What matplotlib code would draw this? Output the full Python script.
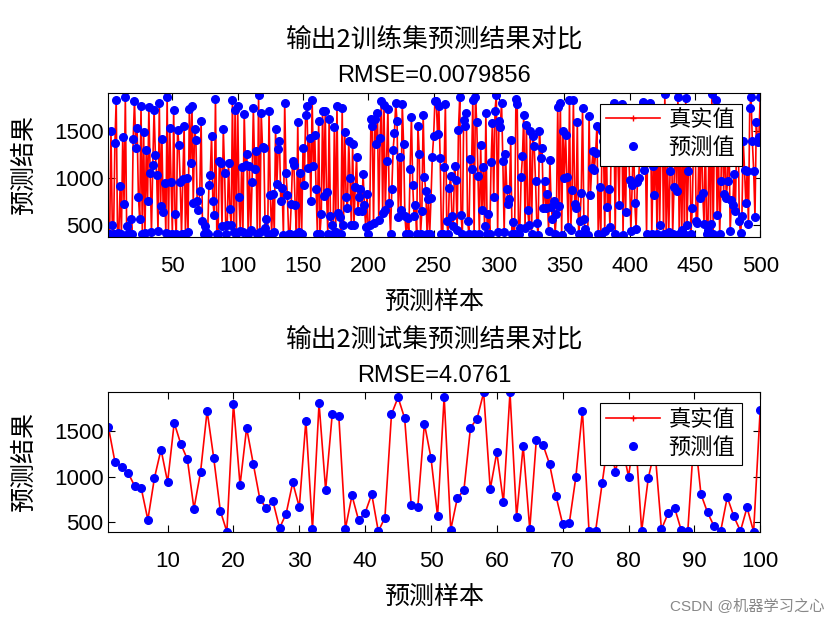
import numpy as np
import matplotlib
matplotlib.use('Agg')
import matplotlib.pyplot as plt

plt.rcParams['font.family'] = ['Liberation Sans', 'Noto Sans CJK SC']
plt.rcParams['axes.unicode_minus'] = False

# ---- data (train: 500 samples, test: 100 samples) ----
# true and predicted values overlap almost exactly (RMSE ~0.008 / ~4), so the
# same estimates are used for both series
train_1 = [404, 404, 1500, 501, 404, 1372, 1832, 410, 404, 911, 404, 1436, 722, 1864, 483, 404, 410, 562, 404, 1422,
           1821, 1322, 1536, 801, 565, 1768, 404, 1493, 410, 1297, 751, 1757, 1054, 420, 1143, 1732, 1250, 1029, 430, 1803,
           697, 1422, 637, 947, 410, 1871, 404, 1536, 954, 404, 1728, 615, 404, 1518, 1357, 958, 404, 993, 1554, 404,
           1001, 420, 1743, 1161, 1768, 733, 1529, 1411, 751, 662, 858, 1607, 537, 404, 483, 420, 404, 922, 1029, 1450,
           751, 608, 1850, 404]
train_2 = [404, 1186, 1161, 483, 1521, 1051, 404, 501, 1161, 672, 501, 1839, 420, 1732, 404, 1768, 794, 430, 1118, 420,
           1685, 1136, 1257, 404, 1125, 448, 954, 1750, 1100, 1286, 404, 1885, 420, 1696, 1329, 1322, 465, 562, 404, 1721,
           815, 404, 829, 422, 1520, 936, 1311, 1400, 751, 894, 394, 1807, 1054, 822, 404, 404, 722, 1179, 1143, 715,
           404, 1600, 422, 1054, 404, 1322, 922, 1671, 1768, 1107, 1429, 751, 1835, 1125, 1464, 887, 404, 1614, 404, 615,
           1714, 804, 1714]
train_3 = [851, 404, 1636, 590, 501, 404, 1550, 420, 1768, 626, 580, 404, 1750, 501, 1493, 794, 680, 1393, 1001, 494,
           1364, 494, 901, 1225, 644, 794, 887, 651, 1047, 708, 476, 829, 404, 501, 1632, 1554, 519, 1636, 1364, 1696,
           555, 1429, 1828, 626, 1785, 662, 1186, 1739, 733, 404, 883, 1304, 1482, 1803, 1607, 583, 1222, 662, 1793, 1364,
           590, 404, 573, 404, 1100, 1650, 929, 590, 708, 404, 1554, 1257, 404, 644, 1678, 1008, 858, 404, 779, 404,
           787, 1225, 1446, 1828]
train_4 = [1828, 1471, 1768, 1214, 404, 404, 1118, 1793, 544, 404, 894, 1018, 597, 483, 1132, 983, 448, 1518, 1864, 608,
           404, 1625, 1554, 1696, 544, 404, 1207, 1100, 1839, 404, 1864, 1596, 1018, 404, 1357, 655, 1118, 483, 1696, 404,
           615, 404, 1172, 1589, 797, 1721, 1892, 422, 1614, 1543, 1803, 1179, 422, 1257, 887, 722, 779, 1411, 404, 530,
           404, 1850, 1793, 404, 465, 1008, 1232, 1678, 465, 1564, 662, 494, 1507, 404, 1446, 1339, 972, 519, 394, 1507,
           1214, 1322, 680, 965]
train_5 = [680, 829, 430, 1197, 687, 565, 758, 404, 612, 1757, 697, 1803, 394, 1507, 1001, 1464, 1008, 473, 1832, 448,
           869, 1832, 722, 680, 1596, 404, 540, 840, 1750, 565, 458, 404, 394, 1661, 815, 1107, 1286, 1090, 1268, 1554,
           404, 901, 394, 1500, 1400, 430, 1650, 687, 887, 473, 1450, 1300, 1803, 404, 1550, 1250, 708, 1700, 1793, 394,
           1350, 637, 1600, 1450, 983, 437, 929, 1500, 733, 458, 958, 1001, 1300, 1700, 1814, 1090, 1400, 404, 1550, 1250,
           1803, 404, 1125, 822, 1400]
train_6 = [404, 1650, 500, 1300, 1750, 404, 1900, 404, 1200, 422, 1079, 1700, 404, 901, 1500, 858, 1864, 404, 1350, 448,
           1550, 404, 1857, 501, 1072, 1650, 404, 680, 1400, 1750, 544, 519, 1250, 787, 1600, 840, 508, 1450, 404, 448,
           1700, 508, 1900, 404, 1550, 1839, 608, 1300, 404, 965, 1750, 829, 1500, 787, 972, 1650, 430, 769, 708, 1043,
           644, 1450, 1750, 537, 412, 590, 1400, 1090, 733, 1079, 508, 1750, 1864, 1393, 1079, 580, 1600, 1386, 1436, 1864]
train_true = train_1 + train_2 + train_3 + train_4 + train_5 + train_6
train_pred = list(train_true)

test_true = [1546, 1161, 1110, 1040, 894, 868, 524, 985, 1297, 938,
             1590, 1359, 1190, 645, 1048, 1722, 1205, 623, 392, 1802,
             905, 1535, 1143, 755, 648, 725, 432, 590, 934, 663,
             1615, 421, 1806, 853, 1685, 1667, 425, 791, 520, 601,
             806, 396, 546, 1685, 1872, 1641, 685, 667, 1582, 1205,
             564, 1879, 414, 762, 850, 1538, 1637, 1925, 861, 1267,
             714, 1925, 553, 1337, 421, 1407, 1352, 1139, 780, 476,
             484, 993, 1722, 399, 399, 927, 1450, 1055, 1350, 1000,
             1500, 403, 982, 1300, 418, 593, 656, 410, 396, 1500,
             806, 604, 451, 399, 773, 560, 399, 659, 392, 1736]
test_pred = list(test_true)

train_title = '输出2训练集预测结果对比'
test_title = '输出2测试集预测结果对比'
train_rmse = 'RMSE=0.0079856'
test_rmse = 'RMSE=4.0761'
train_ticks = [50, 100, 150, 200, 250, 300, 350, 400, 450, 500]
test_ticks = [10, 20, 30, 40, 50, 60, 70, 80, 90, 100]
y_ticks = [500, 1000, 1500]

fig = plt.figure(figsize=(8.4, 6.3), dpi=100)
ax1 = fig.add_axes([0.129, 0.624, 0.776, 0.229])
ax2 = fig.add_axes([0.129, 0.156, 0.776, 0.221])


def draw(ax, y_true, y_pred, title, rmse, xticks, ylim, leg_anchor):
    x = np.arange(1, len(y_true) + 1)
    ax.plot(x, y_true, 'r-+', lw=1.2, ms=4, label='真实值')
    ax.plot(x, y_pred, 'o', color='b', ms=5.5, mec='b', label='预测值')
    ax.set_xlim(1, len(y_true))
    ax.set_ylim(*ylim)
    ax.set_xticks(xticks)
    ax.set_yticks(y_ticks)
    ax.tick_params(direction='in', top=True, right=True, labelsize=16, length=5, width=0.8)
    ax.tick_params(axis='x', pad=14)
    for s in ax.spines.values():
        s.set_linewidth(0.8)
    ax.set_xlabel('预测样本', fontsize=18, labelpad=9)
    ax.set_ylabel('预测结果', fontsize=18, labelpad=13)
    ax.annotate(rmse, xy=(0.5, 1), xycoords='axes fraction', xytext=(0, 12),
                textcoords='offset points', ha='center', va='center', fontsize=17)
    ax.annotate(title, xy=(0.5, 1), xycoords='axes fraction', xytext=(0, 38),
                textcoords='offset points', ha='center', va='center', fontsize=18.5,
                family=['Noto Sans CJK SC'])
    leg = ax.legend(loc='upper right', bbox_to_anchor=leg_anchor, fontsize=16, fancybox=False,
                    edgecolor='black', framealpha=1, borderpad=0.3, labelspacing=0.3,
                    handlelength=2.4, handletextpad=0.4, borderaxespad=0)
    leg.get_frame().set_linewidth(0.8)


draw(ax1, train_true, train_pred, train_title, train_rmse, train_ticks, (370, 1915), (0.972, 0.924))
draw(ax2, test_true, test_pred, test_title, test_rmse, test_ticks, (392, 1925), (0.972, 0.921))

fig.text(0.982, 0.025, 'CSDN @机器学习之心', ha='right', va='bottom', fontsize=11, color='#888888')

fig.savefig('out.png', dpi=100)
